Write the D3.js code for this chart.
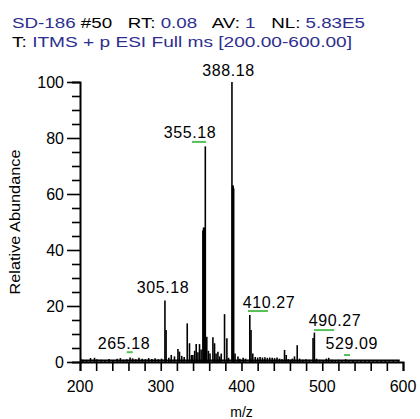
<!DOCTYPE html>
<html lang="en">
<head>
<meta charset="UTF-8">
<title>Mass spectrum</title>
<script src="https://d3js.org/d3.v7.min.js"></script>
<style>
  body, html { margin: 0; background: #fff; }
  svg { display: block; font-family: "Liberation Sans", Arial, sans-serif; }
</style>
</head>
<body>
<svg id="chart" width="420" height="419"></svg>
<script>
// peaks: m/z and relative abundance
const peakMz = [201, 204, 208, 213, 218, 221, 226, 231, 236, 241, 246, 250, 254, 258, 262, 265.18, 269, 273, 277, 281, 285, 289, 293, 297, 301,
  305.18, 306.6, 310, 313, 317, 321.3, 323.2, 326, 329, 332.8, 335.6, 338, 339.8, 342, 343.9, 346, 348, 350,
  352.2, 353, 353.8, 354.5, 355.18, 357, 359, 361, 364.6, 366.6, 368.5, 370.8, 373, 374.9, 379, 381.9, 384,
  388.18, 388.9, 389.6, 390.3, 392, 395.6, 398, 402, 405, 410.27, 411.8, 414, 417, 420, 423, 426, 429, 432, 435, 438, 441, 444, 447,
  450, 453.3, 455.4, 458, 461, 463, 465.6, 469, 472, 476, 480, 484, 488.6, 490.27, 493, 497, 501, 505, 508, 512, 516, 520, 524, 529.09,
  533, 538, 543, 548, 553, 558, 563, 568, 573, 578, 583, 588, 594];
const peakInt = [1.2, 0.8, 0.6, 1.4, 1.5, 1.0, 0.8, 0.6, 1.1, 0.7, 1.2, 1.4, 0.8, 1.0, 1.6, 1.3, 1.0, 1.5, 1.2, 1.0, 1.4, 1.1, 1.3, 1.0, 1.2,
  22, 11.4, 1.5, 2.5, 2.0, 4.6, 3.7, 2.2, 1.8, 13.8, 6.7, 2.5, 2.5, 4.0, 6.4, 3.5, 6.4, 4.5,
  47, 48, 48, 47, 77, 9, 4, 3, 8.8, 6.7, 3, 3.7, 2, 3, 17.1, 8.5, 1.5,
  100, 63, 63, 62, 3, 2, 1.2, 1.5, 1.2, 16.8, 11.4, 3, 1.8, 1.6, 1.8, 1.6, 1.7, 1.5, 1.6, 1.5, 1.4, 1.6, 1.2,
  1.0, 4.3, 2.5, 1.0, 0.8, 1.2, 2.0, 6.0, 1.2, 0.8, 1.0, 0.8, 8.6, 10.5, 1.2, 0.8, 0.6, 1.2, 1.5, 0.8, 0.6, 0.8, 0.6, 1.0,
  0.6, 0.5, 0.6, 0.5, 0.6, 0.5, 0.5, 0.6, 0.5, 0.5, 0.6, 0.5, 0.4];

// peak labels: text, centre m/z, baseline abundance
const labelText = ["388.18", "355.18", "305.18", "265.18", "410.27", "490.27", "529.09"];
const labelMz = [383.9, 336.2, 302.8, 254.5, 434, 515.8, 536.5];
const labelAt = [102.1, 80, 24.6, 4.6, 19.3, 12.7, 4.5];

// green marks under labels: from m/z, to m/z, abundance
const markFrom = [338.7, 257.8, 408, 489.8, 527];
const markTo = [356, 265.2, 432.8, 514.6, 534.4];
const markAt = [78.6, 3.5, 18.2, 11.4, 2.5];

const xTicks = [200, 300, 400, 500, 600];
const yTicks = [0, 20, 40, 60, 80, 100];

const svg = d3.select("#chart");
const blue = "#2e2e8f";

const x = d3.scaleLinear().domain([200, 600]).range([80, 403]);
const y = d3.scaleLinear().domain([0, 100]).range([362, 82]);

// header lines
const h1 = svg.append("text").attr("x", 12).attr("y", 28).attr("font-size", 15.5).attr("fill", "#000")
  .attr("xml:space", "preserve").attr("textLength", 353).attr("lengthAdjust", "spacingAndGlyphs");
[["SD-186 ", blue], ["#50", "#000"], ["   RT: ", "#000"], ["0.08", blue], ["   AV: ", "#000"], ["1", blue], ["   NL: ", "#000"], ["5.83E5", blue]]
  .forEach(p => h1.append("tspan").attr("fill", p[1]).text(p[0]));

const h2 = svg.append("text").attr("x", 12).attr("y", 47).attr("font-size", 15.5).attr("xml:space", "preserve")
  .attr("textLength", 340).attr("lengthAdjust", "spacingAndGlyphs");
h2.append("tspan").attr("fill", "#000").text("T: ");
h2.append("tspan").attr("fill", blue).text("ITMS + p ESI Full ms [200.00-600.00]");

// spectrum sticks
svg.append("g").selectAll("line")
  .data(peakMz.map((m, i) => [m, peakInt[i]]))
  .enter().append("line")
  .attr("x1", d => x(d[0])).attr("x2", d => x(d[0]))
  .attr("y1", y(0)).attr("y2", d => y(d[1]))
  .attr("stroke", "#000").attr("stroke-width", 1.6);

// baseline band
svg.append("line")
  .attr("x1", x(200)).attr("x2", x(596))
  .attr("y1", y(0) - 1.5).attr("y2", y(0) - 1.5)
  .attr("stroke", "#000").attr("stroke-width", 2);

// axes
const xAxis = svg.append("g").attr("transform", `translate(0,${y(0)})`);
xAxis.call(d3.axisBottom(x).tickValues(d3.range(200, 601, 20)).tickSize(9).tickFormat(""));
xAxis.selectAll(".tick text").remove();
xAxis.select(".domain").attr("stroke-width", 2);
xAxis.selectAll(".tick line").attr("stroke-width", 1.6);

const yAxis = svg.append("g").attr("transform", `translate(${x(200)},0)`);
yAxis.call(d3.axisLeft(y).tickValues(d3.range(0, 101, 5)).tickSize(8).tickFormat(""));
yAxis.select(".domain").attr("stroke-width", 2);
yAxis.selectAll(".tick line").attr("stroke-width", 1.6)
  .attr("x2", d => yTicks.includes(d) ? -13 : -8);

svg.append("g").selectAll("text").data(xTicks).enter().append("text")
  .attr("x", d => x(d)).attr("y", 392).attr("text-anchor", "middle")
  .attr("font-size", 16).text(d => d);

svg.append("g").selectAll("text").data(yTicks).enter().append("text")
  .attr("x", 64).attr("y", d => y(d) + 5.5).attr("text-anchor", "end")
  .attr("font-size", 16).text(d => d);

svg.append("text").attr("x", x(400)).attr("y", 417).attr("text-anchor", "middle")
  .attr("font-size", 14).text("m/z");

svg.append("text").attr("transform", "translate(20,222) rotate(-90)")
  .attr("text-anchor", "middle").attr("font-size", 14)
  .attr("textLength", 145).attr("lengthAdjust", "spacingAndGlyphs")
  .text("Relative Abundance");

// labels
svg.append("g").selectAll("text").data(labelText).enter().append("text")
  .attr("x", (d, i) => x(labelMz[i])).attr("y", (d, i) => y(labelAt[i]))
  .attr("text-anchor", "middle").attr("font-size", 16).attr("letter-spacing", 0.6).text(d => d);

svg.append("g").selectAll("line").data(markFrom).enter().append("line")
  .attr("x1", d => x(d)).attr("x2", (d, i) => x(markTo[i]))
  .attr("y1", (d, i) => y(markAt[i])).attr("y2", (d, i) => y(markAt[i]))
  .attr("stroke", "#55c055").attr("stroke-width", 2);
</script>
</body>
</html>
